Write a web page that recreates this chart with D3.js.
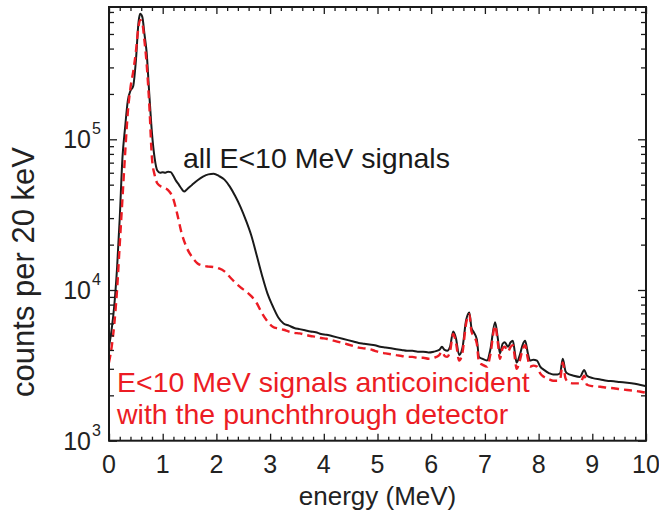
<!DOCTYPE html>
<html>
<head>
<meta charset="utf-8">
<script src="https://cdn.jsdelivr.net/npm/d3@7"></script>
<style>
  html, body { margin: 0; padding: 0; background: #fff; }
  svg { display: block; font-family: "Liberation Sans", Arial, Helvetica, sans-serif; }
</style>
</head>
<body>
<svg id="chart" width="659" height="520"></svg>
<script>
// ---- Data ----
const allEnergy = [0.00,0.05,0.10,0.15,0.20,0.25,0.30,0.35,0.40,0.45,0.50,0.55,0.58,0.62,0.66,0.70,0.75,0.80,0.85,0.90,0.95,1.00,1.05,1.10,1.15,1.20,1.25,1.30,1.35,1.40,1.45,1.55,1.65,1.75,1.85,1.95,2.05,2.15,2.25,2.35,2.45,2.55,2.65,2.75,2.85,2.95,3.05,3.15,3.25,3.35,3.45,3.55,3.65,3.75,3.85,3.95,4.05,4.15,4.25,4.35,4.45,4.55,4.65,4.75,4.85,4.95,5.05,5.15,5.25,5.35,5.45,5.55,5.65,5.75,5.85,5.95,6.05,6.15,6.20,6.25,6.30,6.35,6.41,6.46,6.52,6.58,6.65,6.71,6.75,6.80,6.85,6.89,6.95,7.04,7.10,7.19,7.24,7.28,7.33,7.37,7.43,7.48,7.52,7.56,7.59,7.65,7.70,7.75,7.80,7.84,7.90,7.97,8.03,8.10,8.20,8.27,8.35,8.40,8.45,8.50,8.53,8.65,8.77,8.85,8.90,9.01,9.15,9.27,9.40,9.51,9.65,9.76,9.88,10.0];
const allCounts = [4200,5500,8000,14000,30000,75000,120000,180000,210000,225000,330000,600000,680000,650000,500000,380000,200000,110000,75000,62000,60000,60500,60000,61000,60500,57000,53000,50000,47000,45000,46500,50000,53500,56500,58500,59000,57000,54000,48500,42000,35500,29000,23000,17000,12500,9500,7800,6600,6000,5800,5600,5500,5400,5300,5250,5100,5050,4950,4850,4750,4650,4550,4450,4400,4350,4300,4200,4150,4100,4050,4000,3950,3950,3900,3900,3850,3900,4000,4200,4000,3950,4200,5300,4800,3700,4100,6300,7100,5600,5200,4700,3600,3500,3400,4000,6100,4800,3800,4400,4500,4200,4500,4600,3800,3300,3700,4300,4600,3800,3400,3450,3400,3100,2950,2800,2750,2750,2800,3500,2900,2800,2700,2650,2950,2700,2600,2550,2500,2480,2450,2420,2400,2350,2300];

const antiEnergy = [0.00,0.05,0.10,0.15,0.20,0.25,0.30,0.35,0.40,0.45,0.50,0.55,0.58,0.62,0.66,0.70,0.75,0.80,0.85,0.90,1.00,1.10,1.20,1.27,1.35,1.45,1.55,1.65,1.75,1.85,1.95,2.05,2.15,2.25,2.35,2.45,2.55,2.65,2.75,2.85,2.95,3.05,3.15,3.25,3.35,3.45,3.55,3.65,3.75,3.85,3.95,4.05,4.15,4.25,4.35,4.45,4.55,4.65,4.75,4.85,4.95,5.05,5.15,5.25,5.35,5.45,5.55,5.65,5.75,5.85,5.95,6.05,6.15,6.20,6.25,6.30,6.35,6.41,6.46,6.52,6.58,6.65,6.71,6.75,6.80,6.85,6.89,6.95,7.04,7.10,7.19,7.24,7.28,7.33,7.37,7.43,7.48,7.52,7.56,7.59,7.65,7.70,7.75,7.80,7.84,7.90,7.97,8.03,8.10,8.20,8.27,8.35,8.40,8.45,8.50,8.55,8.65,8.77,8.85,8.90,9.01,9.15,9.27,9.40,9.51,9.65,9.76,9.88,10.0];
const antiCounts = [3300,4200,6000,10000,20000,40000,80000,150000,220000,280000,380000,560000,620000,590000,450000,320000,170000,75000,58000,51000,48000,46000,40000,32000,24000,19000,16500,15000,14500,14300,14200,13900,13300,12200,11200,10400,9800,9100,8200,7000,6200,5700,5550,5450,5300,5200,5150,5050,4950,4900,4800,4750,4650,4550,4450,4350,4250,4150,4100,4050,3950,3850,3800,3750,3700,3650,3600,3600,3550,3550,3500,3550,3700,3900,3650,3600,3900,5100,4500,3400,3800,6000,6900,5300,4900,4400,3300,3200,3100,3700,5800,4500,3500,4100,4200,3900,4200,4300,3500,3000,3400,4000,4300,3500,3100,3150,3100,2800,2650,2550,2500,2500,2550,3300,2600,2450,2400,2400,2700,2350,2300,2280,2250,2230,2200,2170,2150,2120,2080];

const xTickValues = [0,1,2,3,4,5,6,7,8,9,10];
const xTickLabels = ["0","1","2","3","4","5","6","7","8","9","10"];
const yTickValues = [1e3,1e4,1e5];
const yTickExponents = ["3","4","5"];
const xTitle = "energy (MeV)";
const yTitle = "counts per 20 keV";
const labelAll = "all E<10 MeV signals";
const labelAnti = ["E<10 MeV signals anticoincident", "with the punchthrough detector"];

// ---- Layout ----
const svg = d3.select("#chart");
const L = 109, R = 646, T = 7, B = 440.7;
const red = "#ec1c24";

const x = d3.scaleLinear().domain([0, 10]).range([L, R]);
const y = d3.scaleLog().domain([1000, 7.55e5]).range([B, T]);

const allData = allEnergy.map((e, i) => [e, allCounts[i]]);
const antiData = antiEnergy.map((e, i) => [e, antiCounts[i]]);

svg.append("clipPath").attr("id", "clip")
  .append("rect").attr("x", L).attr("y", T).attr("width", R - L).attr("height", B - T);

const line = d3.line().x(d => x(d[0])).y(d => y(d[1])).curve(d3.curveMonotoneX);

const g = svg.append("g").attr("clip-path", "url(#clip)");
g.append("path").datum(allData)
  .attr("d", line).attr("fill", "none").attr("stroke", "#1a1a1a")
  .attr("stroke-width", 2).attr("stroke-linejoin", "round");
g.append("path").datum(antiData)
  .attr("d", line).attr("fill", "none").attr("stroke", red)
  .attr("stroke-width", 2.4).attr("stroke-dasharray", "8,5");

// ---- Axes (ticks inward on all four sides) ----
const xMinor = d3.range(0, 10.001, 0.2).filter(v => Math.abs(v - Math.round(v)) > 1e-6);
const axStyle = sel => { sel.select(".domain").remove(); sel.selectAll("line").attr("stroke", "#1a1a1a").attr("stroke-width", 1.3); };

svg.append("g").attr("transform", `translate(0,${B})`).call(d3.axisTop(x).tickValues(xTickValues).tickSize(7).tickFormat("")).call(axStyle);
svg.append("g").attr("transform", `translate(0,${B})`).call(d3.axisTop(x).tickValues(xMinor).tickSize(4).tickFormat("")).call(axStyle);
svg.append("g").attr("transform", `translate(0,${T})`).call(d3.axisBottom(x).tickValues(xTickValues).tickSize(7).tickFormat("")).call(axStyle);
svg.append("g").attr("transform", `translate(0,${T})`).call(d3.axisBottom(x).tickValues(xMinor).tickSize(4).tickFormat("")).call(axStyle);

const yMinor = [];
[1e3, 1e4, 1e5].forEach(d => { for (let k = 2; k <= 9; k++) { if (d * k <= 7.55e5) yMinor.push(d * k); } });
svg.append("g").attr("transform", `translate(${L},0)`).call(d3.axisRight(y).tickValues(yTickValues).tickSize(8).tickFormat("")).call(axStyle);
svg.append("g").attr("transform", `translate(${L},0)`).call(d3.axisRight(y).tickValues(yMinor).tickSize(5).tickFormat("")).call(axStyle);
svg.append("g").attr("transform", `translate(${R},0)`).call(d3.axisLeft(y).tickValues(yTickValues).tickSize(8).tickFormat("")).call(axStyle);
svg.append("g").attr("transform", `translate(${R},0)`).call(d3.axisLeft(y).tickValues(yMinor).tickSize(5).tickFormat("")).call(axStyle);

// frame
svg.append("rect").attr("x", L).attr("y", T).attr("width", R - L).attr("height", B - T)
  .attr("fill", "none").attr("stroke", "#1a1a1a").attr("stroke-width", 2);

// x tick labels
svg.append("g").selectAll("text").data(xTickValues).join("text")
  .attr("x", d => x(d)).attr("y", 473)
  .attr("text-anchor", "middle").attr("font-size", 25).attr("fill", "#222")
  .text((d, i) => xTickLabels[i]);

// y tick labels 10^n
svg.append("g").selectAll("text").data(yTickValues).join("text")
  .attr("x", 91).attr("y", d => y(d) + 9)
  .attr("text-anchor", "end").attr("font-size", 25).attr("fill", "#222")
  .text("10");
svg.append("g").selectAll("text").data(yTickValues).join("text")
  .attr("x", 92).attr("y", d => y(d) - 5)
  .attr("text-anchor", "start").attr("font-size", 16).attr("fill", "#222")
  .text((d, i) => yTickExponents[i]);

// titles
svg.append("text").attr("x", (L + R) / 2).attr("y", 505)
  .attr("text-anchor", "middle").attr("font-size", 26).attr("fill", "#222").text(xTitle);
svg.append("text").attr("transform", `translate(34,272) rotate(-90)`)
  .attr("text-anchor", "middle").attr("font-size", 31).attr("fill", "#222").text(yTitle);

// annotations
svg.append("text").attr("x", 183).attr("y", 168).attr("font-size", 28.5).attr("fill", "#1a1a1a").text(labelAll);
svg.append("g").selectAll("text").data(labelAnti).join("text")
  .attr("x", 117).attr("y", (d, i) => 392 + i * 32)
  .attr("font-size", 28.5).attr("fill", red).text(d => d);
</script>
</body>
</html>
